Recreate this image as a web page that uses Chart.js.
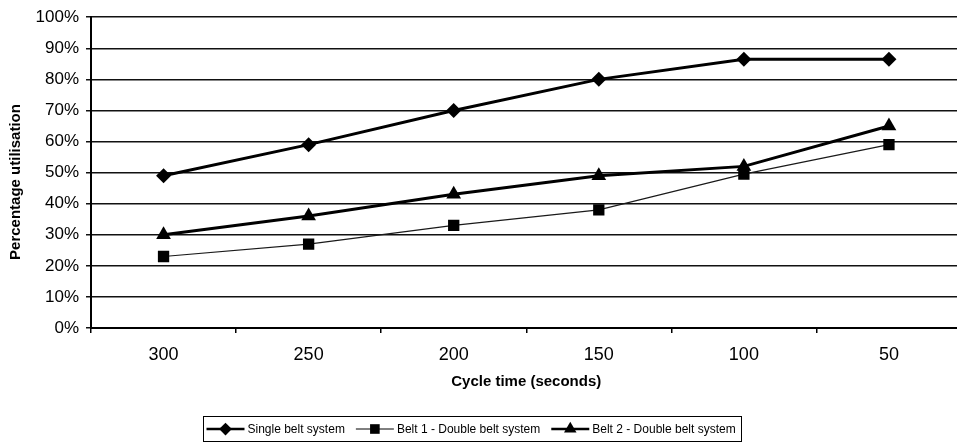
<!DOCTYPE html>
<html>
<head>
<meta charset="utf-8">
<script src="https://cdn.jsdelivr.net/npm/chart.js@4.4.1/dist/chart.umd.min.js"></script>
<style>
  html, body { margin: 0; padding: 0; background: #fff; overflow: hidden; }
  #wrap { width: 970px; height: 444px; }
</style>
</head>
<body>
<div id="wrap"><canvas id="c" width="970" height="444"></canvas></div>
<script>
const categories = ['300', '250', '200', '150', '100', '50'];
const singleBelt = [49, 59, 70, 80, 86.5, 86.5];
const belt1Double = [23, 27, 33, 38, 49.5, 59];
const belt2Double = [30, 36, 43, 49, 52, 65];
const seriesNames = ['Single belt system', 'Belt 1 - Double belt system', 'Belt 2 - Double belt system'];
const yTitle = 'Percentage utilisation';
const xTitle = 'Cycle time (seconds)';

const FONT = "'Liberation Sans', Arial, sans-serif";

function drawMarker(ctx, style, x, y, r) {
  ctx.beginPath();
  if (style === 'rectRot') {
    ctx.moveTo(x - r, y); ctx.lineTo(x, y - r); ctx.lineTo(x + r, y); ctx.lineTo(x, y + r);
  } else if (style === 'rect') {
    const s = r * Math.SQRT1_2;
    ctx.rect(x - s, y - s, 2 * s, 2 * s);
  } else if (style === 'triangle') {
    ctx.moveTo(x, y - r);
    ctx.lineTo(x + r * 0.866, y + r * 0.5);
    ctx.lineTo(x - r * 0.866, y + r * 0.5);
  }
  ctx.closePath();
  ctx.fill();
}

const extras = {
  id: 'extras',
  afterDraw(chart) {
    const ctx = chart.ctx;
    ctx.save();
    // y axis title
    ctx.fillStyle = '#000';
    ctx.font = "bold 15px " + FONT;
    ctx.textAlign = 'center';
    ctx.textBaseline = 'middle';
    ctx.translate(16, 182);
    ctx.rotate(-Math.PI / 2);
    ctx.fillText(yTitle, 0, 0);
    ctx.restore();

    // legend
    ctx.save();
    const box = { x: 203.5, y: 416.5, w: 538, h: 25 };
    ctx.strokeStyle = '#000';
    ctx.lineWidth = 1;
    ctx.strokeRect(box.x, box.y, box.w, box.h);
    ctx.font = "12px " + FONT;
    ctx.textBaseline = 'middle';
    ctx.textAlign = 'left';
    const ly = box.y + box.h / 2;
    let x = box.x + 3;
    chart.data.datasets.forEach((ds, i) => {
      const segLen = 38;
      ctx.strokeStyle = '#000';
      ctx.lineWidth = i === 1 ? 1 : 2.5;
      ctx.beginPath();
      ctx.moveTo(x, ly); ctx.lineTo(x + segLen, ly); ctx.stroke();
      ctx.fillStyle = '#000';
      drawMarker(ctx, ds.pointStyle, x + segLen / 2, ly, ds.pointRadius * 0.85);
      const tx = x + segLen + 3;
      ctx.fillText(ds.label, tx, ly + 1);
      x = tx + ctx.measureText(ds.label).width + 11;
    });
    ctx.restore();
  }
};

new Chart(document.getElementById('c'), {
  type: 'line',
  data: {
    labels: categories,
    datasets: [
      {
        label: seriesNames[0], data: singleBelt,
        borderColor: '#000', backgroundColor: '#000', borderWidth: 3,
        pointStyle: 'rectRot', pointRadius: 7.5, pointBorderWidth: 0, tension: 0
      },
      {
        label: seriesNames[1], data: belt1Double,
        borderColor: '#1a1a1a', backgroundColor: '#000', borderWidth: 1.2,
        pointStyle: 'rect', pointRadius: 8, pointBorderWidth: 0, tension: 0
      },
      {
        label: seriesNames[2], data: belt2Double,
        borderColor: '#000', backgroundColor: '#000', borderWidth: 3,
        pointStyle: 'triangle', pointRadius: 8.5, pointBorderWidth: 0, tension: 0
      }
    ]
  },
  options: {
    responsive: false,
    animation: false,
    devicePixelRatio: 1,
    layout: { padding: { top: 17, right: 7, left: 0, bottom: 0 } },
    plugins: { legend: { display: false }, tooltip: { enabled: false } },
    scales: {
      x: {
        type: 'category',
        offset: true,
        afterFit(s) { s.height = 116; },
        grid: { drawOnChartArea: false, offset: true, tickLength: 5, color: '#000', lineWidth: 1.5 },
        border: { display: true, color: '#000', width: 2 },
        ticks: { color: '#000', font: { family: FONT, size: 18 }, padding: 11, maxRotation: 0, autoSkip: false },
        title: { display: true, text: xTitle, color: '#000', font: { family: FONT, size: 15, weight: 'bold' }, padding: { top: 0, bottom: 53 } }
      },
      y: {
        min: 0, max: 100,
        afterFit(s) { s.width = 91; },
        grid: { color: '#111', lineWidth: 1.5, tickLength: 5, drawTicks: true },
        border: { display: true, color: '#000', width: 2 },
        ticks: { stepSize: 10, color: '#000', font: { family: FONT, size: 17 }, padding: 7, callback: v => v + '%' }
      }
    }
  },
  plugins: [extras]
});
</script>
</body>
</html>
